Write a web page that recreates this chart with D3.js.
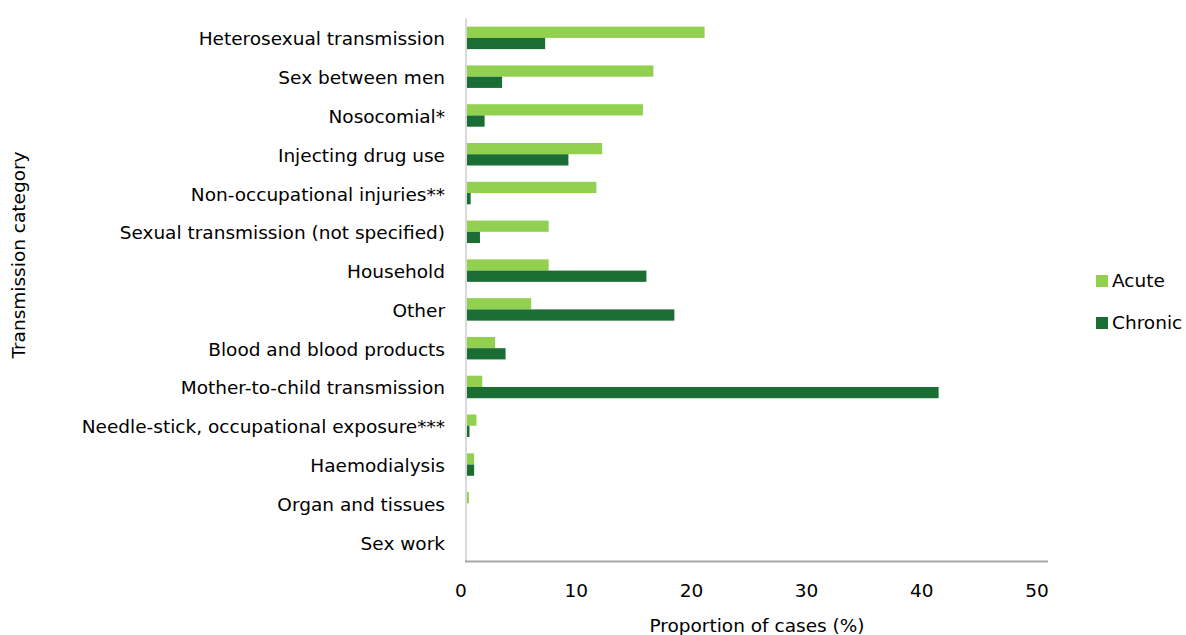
<!DOCTYPE html>
<html>
<head>
<meta charset="utf-8">
<script src="https://cdn.jsdelivr.net/npm/d3@7.9.0/dist/d3.min.js"></script>
<style>
  body { margin: 0; background: #fff; }
  text { font-family: "DejaVu Sans", sans-serif; fill: #000; }
</style>
</head>
<body>
<svg id="chart" width="1186" height="635"></svg>
<script>
// transmission categories, top to bottom
const categories = [
  'Heterosexual transmission',
  'Sex between men',
  'Nosocomial*',
  'Injecting drug use',
  'Non-occupational injuries**',
  'Sexual transmission (not specified)',
  'Household',
  'Other',
  'Blood and blood products',
  'Mother-to-child transmission',
  'Needle-stick, occupational exposure***',
  'Haemodialysis',
  'Organ and tissues',
  'Sex work'
];
const acute   = [20.5, 16.1, 15.2, 11.7, 11.2, 7.1, 7.1, 5.6, 2.5, 1.4, 0.9, 0.7, 0.25, 0];
const chronic = [6.8, 3.1, 1.6, 8.8, 0.4, 1.2, 15.5, 17.9, 3.4, 40.6, 0.3, 0.7, 0, 0];
const seriesNames = ['Acute', 'Chronic'];
const colors = ['#92d050', '#1b6e33'];
const xTicks = [0, 10, 20, 30, 40, 50];

const svg = d3.select('#chart');
const plotLeft = 466, plotRight = 1048, plotTop = 18.5, plotBottom = 561.5;
const fs = '18.5px';

let x = d3.scaleLinear().domain([0, 50]).range([plotLeft, plotRight]);
let y = d3.scaleBand().domain(categories).range([plotTop, plotBottom]).paddingInner(0.42).paddingOuter(0.21);
let ySub = d3.scaleBand().domain(seriesNames).range([0, y.bandwidth()]);

let rows = categories.map((c, i) => ({ cat: c, vals: [acute[i], chronic[i]] }));

// bars
let groups = svg.selectAll('g.row').data(rows).join('g')
  .attr('class', 'row')
  .attr('transform', d => `translate(0,${y(d.cat)})`);

groups.selectAll('rect')
  .data(d => d.vals.map((v, j) => ({ v, s: seriesNames[j], j })))
  .join('rect')
  .attr('x', x(0))
  .attr('y', d => ySub(d.s))
  .attr('width', d => x(d.v) - x(0))
  .attr('height', ySub.bandwidth())
  .attr('fill', d => colors[d.j]);

// y axis line
svg.append('line')
  .attr('x1', plotLeft).attr('x2', plotLeft)
  .attr('y1', plotTop).attr('y2', plotBottom)
  .attr('stroke', '#d9d9d9').attr('stroke-width', 2);

// x axis line
svg.append('line')
  .attr('x1', plotLeft - 1).attr('x2', plotRight)
  .attr('y1', plotBottom).attr('y2', plotBottom)
  .attr('stroke', '#a6a6a6').attr('stroke-width', 2);

// category labels
svg.selectAll('text.cat').data(categories).join('text')
  .attr('class', 'cat')
  .attr('x', 445)
  .attr('y', d => y(d) + y.bandwidth() / 2 + 2.5)
  .attr('text-anchor', 'end')
  .attr('dominant-baseline', 'middle')
  .style('font-size', fs)
  .text(d => d);

// x tick labels
svg.selectAll('text.tick').data(xTicks).join('text')
  .attr('class', 'tick')
  .attr('x', d => x(d) - 5 - d * 0.12)
  .attr('y', 597)
  .attr('text-anchor', 'middle')
  .style('font-size', fs)
  .text(d => d);

// axis titles
svg.append('text')
  .attr('x', 757).attr('y', 632)
  .attr('text-anchor', 'middle')
  .style('font-size', fs)
  .text('Proportion of cases (%)');

svg.append('text')
  .attr('transform', 'translate(25,255) rotate(-90)')
  .attr('text-anchor', 'middle')
  .style('font-size', fs)
  .text('Transmission category');

// legend
let legend = svg.selectAll('g.legend').data(seriesNames).join('g')
  .attr('class', 'legend')
  .attr('transform', (d, i) => `translate(1096,${281 + i * 42})`);
legend.append('rect')
  .attr('x', 0).attr('y', -6).attr('width', 12).attr('height', 12)
  .attr('fill', (d, i) => colors[i]);
legend.append('text')
  .attr('x', 16).attr('y', 1)
  .attr('dominant-baseline', 'middle')
  .style('font-size', fs)
  .text(d => d);
</script>
</body>
</html>
